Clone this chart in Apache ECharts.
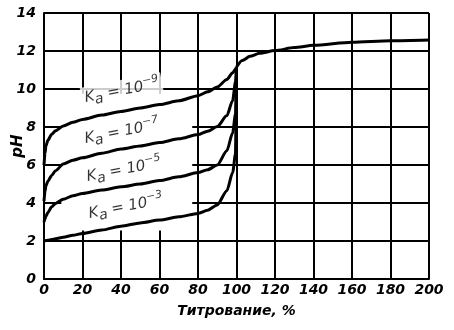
<!DOCTYPE html>
<html><head><meta charset="utf-8">
<script src="https://cdn.jsdelivr.net/npm/echarts/dist/echarts.min.js"></script>
<style>html,body{margin:0;padding:0;background:#fff}#c{width:454px;height:330px}</style>
</head><body><div id="c"></div>
<script>
// Titration percentage for the weak-acid branches
const acidX   = [0, 0.5, 1, 2, 4, 6, 10, 15, 20, 30, 40, 50, 60, 70, 80, 85, 90, 95, 98, 99.5, 100];
const pH_Ka9  = [6.0, 6.6, 7.0, 7.3, 7.62, 7.8, 8.05, 8.25, 8.4, 8.63, 8.82, 9.0, 9.18, 9.38, 9.65, 9.85, 10.1, 10.5, 10.85, 11.05, 11.15];
const pH_Ka7  = [4.1, 4.6, 4.9, 5.15, 5.45, 5.7, 6.05, 6.25, 6.38, 6.62, 6.84, 7.0, 7.18, 7.38, 7.6, 7.78, 8.02, 8.6, 9.4, 10.4, 11.1];
const pH_Ka5  = [3.0, 3.15, 3.3, 3.5, 3.8, 3.98, 4.2, 4.38, 4.5, 4.68, 4.85, 5.0, 5.18, 5.38, 5.6, 5.75, 6.0, 6.75, 7.7, 8.7, 11.1];
const pH_Ka3  = [2.0, 2.01, 2.02, 2.04, 2.08, 2.12, 2.2, 2.3, 2.4, 2.58, 2.78, 2.95, 3.1, 3.27, 3.45, 3.62, 3.9, 4.65, 5.6, 6.6, 11.1];
// Common branch after the equivalence point
const excessX  = [100, 103, 107, 112, 120, 130, 140, 160, 180, 200];
const excessPH = [11.15, 11.5, 11.72, 11.88, 12.02, 12.18, 12.3, 12.46, 12.54, 12.58];
// Tick values / labels
const xTicks = [0, 20, 40, 60, 80, 100, 120, 140, 160, 180, 200];
const yTicks = [0, 2, 4, 6, 8, 10, 12, 14];
const kaExponents = ['−9', '−7', '−5', '−3'];

const zip = (xs, ys) => xs.map((x, i) => [x, ys[i]]);
const tickFont = {fontFamily: 'DejaVu Sans', fontStyle: 'italic', fontWeight: 'bold', fontSize: 14, color: '#000'};

const curveStyle = (data) => ({
  type: 'line', data: data, showSymbol: false, smooth: 0.25, smoothMonotone: 'x',
  lineStyle: {color: '#000', width: 3}, z: 3, silent: true
});

const labelAnchors = [[40.5, 9.9], [40.5, 7.74], [41.6, 5.74], [42.6, 3.79]];

const option = {
  animation: false,
  backgroundColor: '#fff',
  grid: {left: 44, right: 25, top: 13, bottom: 51, outerBoundsMode: 'none', containLabel: false},
  xAxis: {
    type: 'value', min: xTicks[0], max: xTicks[xTicks.length - 1], interval: 20,
    axisLine: {show: true, onZero: false, lineStyle: {color: '#000', width: 2}},
    axisTick: {show: false},
    splitLine: {show: true, lineStyle: {color: '#000', width: 2}},
    axisLabel: Object.assign({margin: 4}, tickFont),
    name: 'Титрование, %', nameLocation: 'middle', nameGap: 25, nameMoveOverlap: false,
    nameTextStyle: {fontFamily: 'DejaVu Sans', fontStyle: 'italic', fontWeight: 'bold', fontSize: 14, color: '#000'}
  },
  yAxis: {
    type: 'value', min: yTicks[0], max: yTicks[yTicks.length - 1], interval: 2,
    axisLine: {show: true, onZero: false, lineStyle: {color: '#000', width: 2}},
    axisTick: {show: false},
    splitLine: {show: true, lineStyle: {color: '#000', width: 2}},
    axisLabel: Object.assign({margin: 8}, tickFont),
    name: 'pH', nameLocation: 'middle', nameGap: 18, nameRotate: 90, nameMoveOverlap: false,
    nameTextStyle: {fontFamily: 'DejaVu Sans', fontStyle: 'italic', fontWeight: 'bold', fontSize: 15, color: '#000'}
  },
  series: [
    {
      type: 'line', data: [], silent: true,
      markArea: {
        silent: true, z: 1,
        itemStyle: {color: '#fff', borderWidth: 0},
        label: {show: false},
        data: [[{coord: [9, 2.55]}, {coord: [77, 9.75]}]]
      }
    },
    curveStyle(zip(acidX, pH_Ka9)),
    curveStyle(zip(acidX, pH_Ka7)),
    curveStyle(zip(acidX, pH_Ka5)),
    curveStyle(zip(acidX, pH_Ka3)),
    curveStyle(zip(excessX, excessPH)),
    {
      type: 'scatter', symbolSize: 0, z: 5, silent: true,
      data: kaExponents.map((e, i) => ({value: labelAnchors[i], exp: e})),
      label: {
        show: true, position: 'inside', rotate: 11,
        backgroundColor: '#fff', padding: [0, 3, 0, 3], textBorderWidth: 0,
        formatter: (p) => '{k|K}{s|a}{k| = 10}{p|' + kaExponents[p.dataIndex] + '}',
        rich: {
          k: {fontFamily: 'DejaVu Sans', fontStyle: 'italic', fontSize: 15, color: '#000', lineHeight: 22, verticalAlign: 'middle', textBorderWidth: 0},
          s: {fontFamily: 'DejaVu Sans', fontStyle: 'italic', fontSize: 14, color: '#000', lineHeight: 16, verticalAlign: 'bottom', textBorderWidth: 0},
          p: {fontFamily: 'DejaVu Sans', fontStyle: 'italic', fontSize: 11, color: '#000', lineHeight: 12, verticalAlign: 'top', textBorderWidth: 0}
        }
      }
    }
  ]
};
const chart = echarts.init(document.getElementById('c'), null, {renderer: 'canvas'});
chart.setOption(option);
</script>
</body></html>
